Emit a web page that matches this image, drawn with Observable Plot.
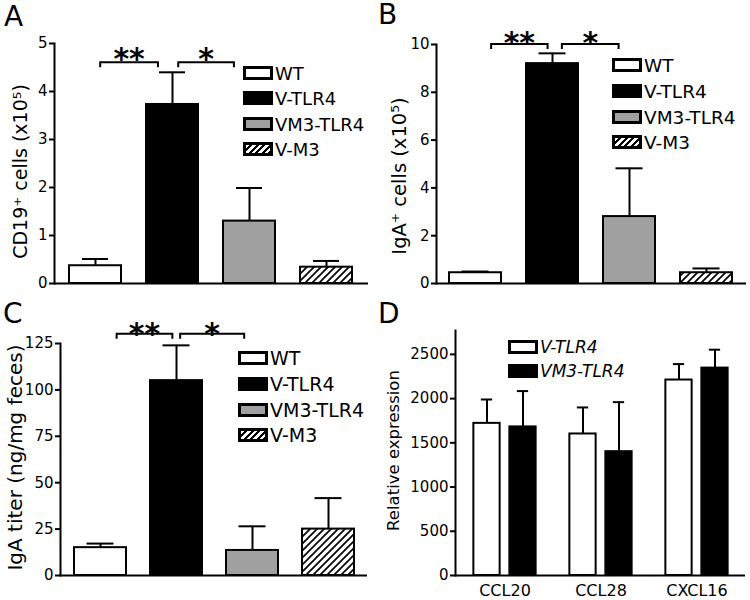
<!DOCTYPE html>
<html><head><meta charset="utf-8">
<script src="https://cdn.jsdelivr.net/npm/d3@7"></script>
<script src="https://cdn.jsdelivr.net/npm/@observablehq/plot@0.6"></script>
<style>
body{margin:0;background:#fff;}
#root{position:relative;width:750px;height:600px;font-family:"DejaVu Sans",Verdana,sans-serif;color:#000;overflow:hidden;background:#fff}
.panel{position:absolute}
.letter{position:absolute;font-size:28px;line-height:28px;}
.leg{position:absolute;display:flex;align-items:center;height:20px;white-space:nowrap}
.sw{display:inline-block;box-sizing:border-box;border:3px solid #000;width:30px;height:14px;margin-right:2px}
</style></head><body><div id="root"></div>
<script>
// ---- data ----
const groups = ["WT", "V-TLR4", "VM3-TLR4", "V-M3"];
const cd19Mean = [0.37, 3.73, 1.30, 0.34];
const cd19Err  = [0.14, 0.67, 0.69, 0.13];
const igaCellMean = [0.45, 9.2, 2.8, 0.45];
const igaCellErr  = [0.05, 0.43, 2.02, 0.18];
const titerMean = [15, 105, 13.5, 25];
const titerErr  = [2.2, 19, 13, 16.7];
const chemokines = ["CCL20", "CCL28", "CXCL16"];
const series = ["V-TLR4", "VM3-TLR4"];
const vtlr4Mean = [1720, 1600, 2210];
const vtlr4Err  = [270, 300, 180];
const vm3tlr4Mean = [1680, 1400, 2345];
const vm3tlr4Err  = [405, 560, 208];
const sigPairs = [["WT", "V-TLR4", "**"], ["V-TLR4", "VM3-TLR4", "*"]];
const sigLevelA = 4.6, sigLevelB = 10.0, sigLevelC = 130;
const ticksA = [0,1,2,3,4,5], ticksB = [0,2,4,6,8,10], ticksC = [0,25,50,75,100,125], ticksD = [0,500,1000,1500,2000,2500];

const FONT = "DejaVu Sans";
const root = document.getElementById("root");
const groupColors = ["white", "black", "#a0a0a0"];
const fmt = d => String(d);

function hatchDefs(svg, id, size) {
  const p = d3.select(svg).insert("defs", ":first-child")
    .append("pattern").attr("id", id).attr("patternUnits", "userSpaceOnUse")
    .attr("width", size).attr("height", size);
  p.append("rect").attr("width", size).attr("height", size).attr("fill", "white");
  p.append("path").attr("d", `M0,${size}L${size},0M${-size/2},${size/2}L${size/2},${-size/2}M${size/2},${size*1.5}L${size*1.5},${size/2}`)
    .attr("stroke", "black").attr("stroke-width", 1.7);
}

function place(el, left, top) {
  el.style.position = "absolute"; el.style.left = left + "px"; el.style.top = top + "px";
  root.appendChild(el);
}

function groupPanel(o) {
  const data = groups.map((g, i) => ({g, v: o.means[i], top: o.means[i] + o.errs[i]}));
  const chart = Plot.plot({
    width: 375, height: 300,
    marginLeft: o.mL, marginRight: o.mR, marginTop: o.mT, marginBottom: o.mB,
    style: {fontFamily: FONT, background: "transparent", overflow: "visible", color: "black"},
    x: {domain: groups, axis: null, paddingInner: o.padIn, paddingOuter: o.padOut},
    y: {domain: o.domain},
    color: {domain: groups, range: [...groupColors, `url(#${o.id})`]},
    marks: [
      Plot.ruleX(data, {x: "g", y1: "v", y2: "top", strokeWidth: 2, stroke: "black"}),
      Plot.tickY(data, {x: "g", y: "top", strokeWidth: 2, stroke: "black", insetLeft: o.cap, insetRight: o.cap}),
      Plot.barY(data, {x: "g", y: "v", fill: "g", stroke: "black", strokeWidth: 2}),
      Plot.ruleY([0], {strokeWidth: 2, stroke: "black"}),
      Plot.frame({anchor: "left", strokeWidth: 2, stroke: "black"}),
      Plot.axisY({ticks: o.ticks, tickFormat: fmt, tickSize: 5, tickPadding: 2, fontSize: 15, strokeWidth: 2, label: null}),
      Plot.text([o.label], {frameAnchor: "left", textAnchor: "middle", lineAnchor: "middle", rotate: -90, dx: o.ldx, dy: o.ldy, fontSize: o.lsize, fill: "black"})
    ]
  });
  hatchDefs(chart, o.id, 7);
  // significance brackets
  const sx = chart.scale("x"), sy = chart.scale("y"), bw = sx.bandwidth;
  const svg = d3.select(chart);
  const yb = sy.apply(o.level);
  sigPairs.forEach(([a, b, lab], i) => {
    const x1 = sx.apply(a) + o.ends[i][0] * bw, x2 = sx.apply(b) + o.ends[i][1] * bw;
    svg.append("path").attr("d", `M${x1},${yb + 5}V${yb}H${x2}V${yb + 5}`)
      .attr("fill", "none").attr("stroke", "black").attr("stroke-width", 2);
    svg.append("text").attr("x", (x1 + x2) / 2).attr("y", yb - o.gap + 0.59 * 30)
      .attr("text-anchor", "middle").attr("font-size", 30).attr("font-weight", "bold")
      .attr("font-family", FONT).text(lab);
  });
  place(chart, o.left, o.top);
  // legend
  const hatchCss = "repeating-linear-gradient(135deg, #fff 0 2.6px, #000 2.6px 4.6px)";
  groups.forEach((g, i) => {
    const row = document.createElement("div");
    row.className = "leg";
    row.style.fontSize = o.legSize + "px";
    const sw = document.createElement("span");
    sw.className = "sw";
    sw.style.background = i < 3 ? groupColors[i] : hatchCss;
    row.appendChild(sw);
    row.appendChild(document.createTextNode(g));
    place(row, o.legX, o.legY[i] - 10);
  });
}

groupPanel({id: "hA", left: 0, top: 0, mL: 54, mR: 7, mT: 43, mB: 17, padIn: 0.32, padOut: 0.18,
  means: cd19Mean, errs: cd19Err, domain: [0, 5], ticks: ticksA, cap: 13,
  label: "CD19⁺ cells (x10⁵)", ldx: -34, ldy: 8, lsize: 19,
  level: sigLevelA, ends: [[0.6, 0.23], [0.62, 0.21]], gap: 11,
  legX: 243, legY: [73, 98, 124, 149], legSize: 18});

groupPanel({id: "hB", left: 375, top: 0, mL: 61, mR: 4, mT: 44, mB: 17, padIn: 0.32, padOut: 0.15,
  means: igaCellMean, errs: igaCellErr, domain: [0, 10], ticks: ticksB, cap: 12.5,
  label: "IgA⁺ cells (x10⁵)", ldx: -37, ldy: 12, lsize: 19.5,
  level: sigLevelB, ends: [[0.81, 0.415], [0.69, 0.3]], gap: 9,
  legX: 612, legY: [65, 91, 117, 142], legSize: 18.5});

groupPanel({id: "hC", left: 0, top: 300, mL: 60, mR: 8, mT: 43, mB: 25, padIn: 0.32, padOut: 0.17,
  means: titerMean, errs: titerErr, domain: [0, 125], ticks: ticksC, cap: 12.5,
  label: "IgA titer (ng/mg feces)", ldx: -45, ldy: -2, lsize: 20,
  level: sigLevelC, ends: [[0.82, 0.43], [0.58, 0.35]], gap: 7,
  legX: 238, legY: [358, 384, 410, 435], legSize: 19});

// ---- panel D ----
(function () {
  const rows = chemokines.flatMap((c, i) => [
    {c, s: series[0], v: vtlr4Mean[i], top: vtlr4Mean[i] + vtlr4Err[i]},
    {c, s: series[1], v: vm3tlr4Mean[i], top: vm3tlr4Mean[i] + vm3tlr4Err[i]}
  ]);
  const mL = 80, mR = 5, padIn = 0.18, padOut = 0.1;
  const bw = (375 - mL - mR) / (3 - padIn + 2 * padOut) * (1 - padIn);
  const barW = 26, capW = 11, off = 18;
  const inset = (bw - barW) / 2, capInset = (bw - capW) / 2;
  const dxOf = s => s === series[0] ? -off : off;
  const marks = [];
  series.forEach((s, k) => {
    const d = rows.filter(r => r.s === s);
    marks.push(
      Plot.ruleX(d, {x: "c", y1: "v", y2: "top", dx: dxOf(s), strokeWidth: 2, stroke: "black"}),
      Plot.tickY(d, {x: "c", y: "top", dx: dxOf(s), insetLeft: capInset, insetRight: capInset, strokeWidth: 2, stroke: "black"}),
      Plot.barY(d, {x: "c", y: "v", dx: dxOf(s), insetLeft: inset, insetRight: inset, fill: k === 0 ? "white" : "black", stroke: "black", strokeWidth: 2})
    );
  });
  const chart = Plot.plot({
    width: 375, height: 300, marginLeft: mL, marginRight: mR, marginTop: 30, marginBottom: 25,
    style: {fontFamily: FONT, background: "transparent", overflow: "visible", color: "black"},
    x: {domain: chemokines, paddingInner: padIn, paddingOuter: padOut},
    y: {domain: [0, 2770]},
    marks: [
      ...marks,
      Plot.ruleY([0], {strokeWidth: 2, stroke: "black"}),
      Plot.frame({anchor: "left", strokeWidth: 2, stroke: "black"}),
      Plot.axisY({ticks: ticksD, tickFormat: fmt, tickSize: 5, tickPadding: 2, fontSize: 15, strokeWidth: 2, label: null}),
      Plot.axisX({tickSize: 0, tickPadding: 9, fontSize: 16, label: null}),
      Plot.text(["Relative expression"], {frameAnchor: "left", textAnchor: "middle", lineAnchor: "middle", rotate: -90, dx: -61.5, dy: -2.5, fontSize: 16.5, fill: "black"})
    ]
  });
  place(chart, 375, 300);
  const legY = [347, 371];
  series.forEach((s, i) => {
    const row = document.createElement("div");
    row.className = "leg";
    row.style.fontSize = "17px";
    row.style.fontStyle = "italic";
    const sw = document.createElement("span");
    sw.className = "sw";
    sw.style.background = i === 0 ? "white" : "black";
    row.appendChild(sw);
    row.appendChild(document.createTextNode(s));
    place(row, 508, legY[i] - 10);
  });
})();

// panel letters
[["A", 4, 3], ["B", 378, 1], ["C", 3, 300], ["D", 378, 300]].forEach(([t, l, tp]) => {
  const d = document.createElement("div");
  d.className = "letter"; d.textContent = t;
  place(d, l, tp);
});
</script></body></html>
